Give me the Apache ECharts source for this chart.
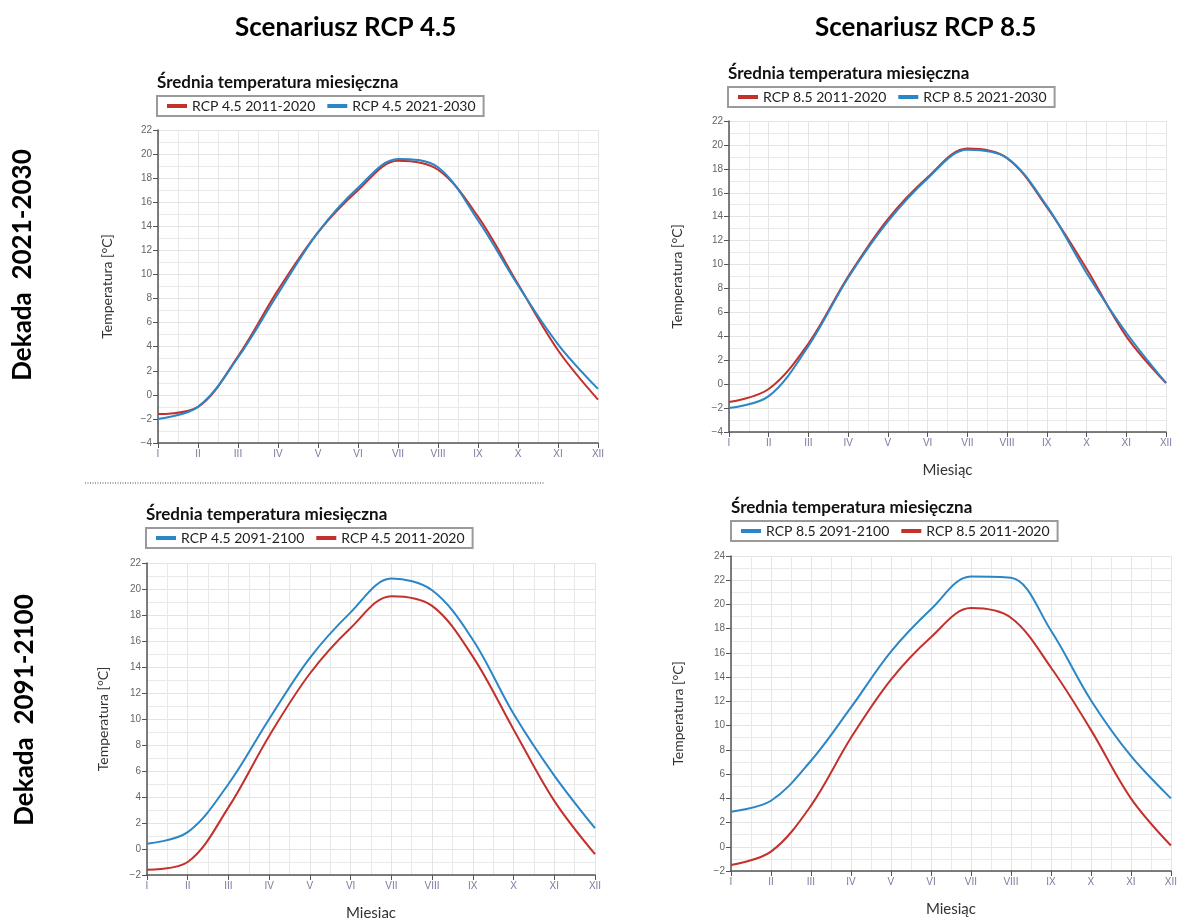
<!DOCTYPE html>
<html><head><meta charset="utf-8">
<script src="https://cdn.jsdelivr.net/npm/echarts@6/dist/echarts.min.js"></script>
<style>html,body{margin:0;padding:0;background:#fff;}#c{width:1180px;height:922px;}</style>
</head><body><div id="c"></div>
<script>
const months = ['I','II','III','IV','V','VI','VII','VIII','IX','X','XI','XII'];
const rcp45_2011_2020 = [-1.6, -1.0, 3.2, 8.7, 13.5, 17.0, 19.45, 18.7, 14.8, 9.2, 3.7, -0.4];
const rcp45_2021_2030 = [-2.0, -1.0, 3.1, 8.4, 13.5, 17.2, 19.6, 18.9, 14.5, 9.1, 4.2, 0.5];
const rcp45_2091_2100 = [0.4, 1.3, 5.0, 10.0, 14.7, 18.2, 20.8, 19.9, 16.1, 10.4, 5.65, 1.6];
const rcp85_2011_2020 = [-1.5, -0.4, 3.4, 9.0, 13.8, 17.3, 19.7, 18.9, 14.8, 9.65, 4.0, 0.1];
const rcp85_2021_2030 = [-2.0, -1.0, 3.2, 8.9, 13.6, 17.2, 19.6, 18.9, 14.9, 9.3, 4.3, 0.1];
const rcp85_2091_2100 = [2.9, 3.8, 7.1, 11.5, 16.1, 19.6, 22.3, 22.2, 17.85, 12.1, 7.5, 4.0];
const yTicks = [{min:-4,max:22},{min:-4,max:22},{min:-2,max:22},{min:-2,max:24}];

const RED = '#c4302b', BLUE = '#2a86c6';
const FONT = 'Lato';
const chart = echarts.init(document.getElementById('c'));

const panels = [
  {grid:{left:158,top:130,width:440,height:313}, title:{left:157,top:74}, legend:{left:157,top:96},
   series:[['RCP 4.5 2011-2020',rcp45_2011_2020,RED],['RCP 4.5 2021-2030',rcp45_2021_2030,BLUE]], xname:'', yGap:44},
  {grid:{left:729,top:121,width:437,height:311}, title:{left:728,top:65}, legend:{left:728,top:87},
   series:[['RCP 8.5 2011-2020',rcp85_2011_2020,RED],['RCP 8.5 2021-2030',rcp85_2021_2030,BLUE]], xname:'Miesiąc', yGap:45},
  {grid:{left:147,top:563,width:448,height:319}, title:{left:146,top:506}, legend:{left:146,top:528},
   series:[['RCP 4.5 2091-2100',rcp45_2091_2100,BLUE],['RCP 4.5 2011-2020',rcp45_2011_2020,RED]], xname:'Miesiac', yGap:37},
  {grid:{left:731,top:556,width:443,height:315}, title:{left:731,top:499}, legend:{left:731,top:521},
   series:[['RCP 8.5 2091-2100',rcp85_2091_2100,BLUE],['RCP 8.5 2011-2020',rcp85_2011_2020,RED]], xname:'Miesiąc', yGap:46}
];

const option = {
  animation:false,
  title:[], legend:[], grid:[], xAxis:[], yAxis:[], series:[],
  graphic:[
    {type:'text', x:235, y:28, style:{text:'Scenariusz RCP 4.5', font:'bold 26px '+FONT, fill:'#000', verticalAlign:'middle'}},
    {type:'text', x:815, y:28, style:{text:'Scenariusz RCP 8.5', font:'bold 26px '+FONT, fill:'#000', verticalAlign:'middle'}},
    {type:'text', x:23, y:265, rotation:Math.PI/2, style:{text:'Dekada  2021-2030', font:'bold 26px '+FONT, fill:'#000', align:'center', verticalAlign:'middle'}},
    {type:'text', x:25, y:710, rotation:Math.PI/2, style:{text:'Dekada  2091-2100', font:'bold 26px '+FONT, fill:'#000', align:'center', verticalAlign:'middle'}},
    {type:'line', shape:{x1:85,y1:483,x2:545,y2:483}, style:{stroke:'#444', lineWidth:1, lineDash:[1,1.5]}}
  ]
};

panels.forEach((p,i)=>{
  option.grid.push(p.grid);
  option.title.push({text:'Średnia temperatura miesięczna', left:p.title.left, top:p.title.top, padding:0,
    textStyle:{fontFamily:FONT, fontWeight:'bold', fontSize:17, color:'#111'}});
  option.legend.push({left:p.legend.left, top:p.legend.top, data:p.series.map(s=>s[0]),
    icon:'rect', itemWidth:20, itemHeight:4, itemGap:12, padding:[3,8,3,10],
    borderColor:'#9a9a9a', borderWidth:2, backgroundColor:'#fff',
    textStyle:{fontFamily:FONT, fontSize:14, color:'#222'}, selectedMode:false});
  option.xAxis.push({type:'value', gridIndex:i, min:0, max:11, interval:1,
    name:p.xname, nameLocation:'middle', nameGap:31, nameTextStyle:{fontFamily:FONT, fontSize:15, color:'#333'},
    axisLine:{show:true, onZero:false, lineStyle:{color:'#555', width:1.5}},
    axisTick:{show:true, length:5, lineStyle:{color:'#555'}},
    axisLabel:{fontSize:10, color:'#7a7aa0', margin:6, formatter:v=>months[v]},
    splitLine:{show:true, lineStyle:{color:'#e4e4e4'}},
    minorTick:{show:false, splitNumber:2},
    minorSplitLine:{show:true, lineStyle:{color:'#e9e9e9'}}});
  option.yAxis.push({type:'value', gridIndex:i, min:yTicks[i].min, max:yTicks[i].max, interval:2,
    name:'Temperatura [°C]', nameLocation:'middle', nameGap:p.yGap, nameRotate:90,
    nameTextStyle:{fontFamily:FONT, fontSize:14, color:'#333'},
    axisLine:{show:true, lineStyle:{color:'#555', width:1.5}},
    axisTick:{show:true, length:5, lineStyle:{color:'#555'}},
    axisLabel:{fontSize:10, color:'#666', margin:6, formatter:v=>v<0?'\u2212'+Math.abs(v):String(v)},
    splitLine:{show:true, lineStyle:{color:'#e4e4e4'}},
    minorTick:{show:false, splitNumber:2},
    minorSplitLine:{show:true, lineStyle:{color:'#e9e9e9'}}});
  p.series.forEach(s=>{
    option.series.push({type:'line', name:s[0], xAxisIndex:i, yAxisIndex:i,
      data:s[1].map((v,k)=>[k,v]), smooth:0.35, showSymbol:false, symbol:'none',
      lineStyle:{color:s[2], width:2}, itemStyle:{color:s[2]}});
  });
});

chart.setOption(option);
</script></body></html>
